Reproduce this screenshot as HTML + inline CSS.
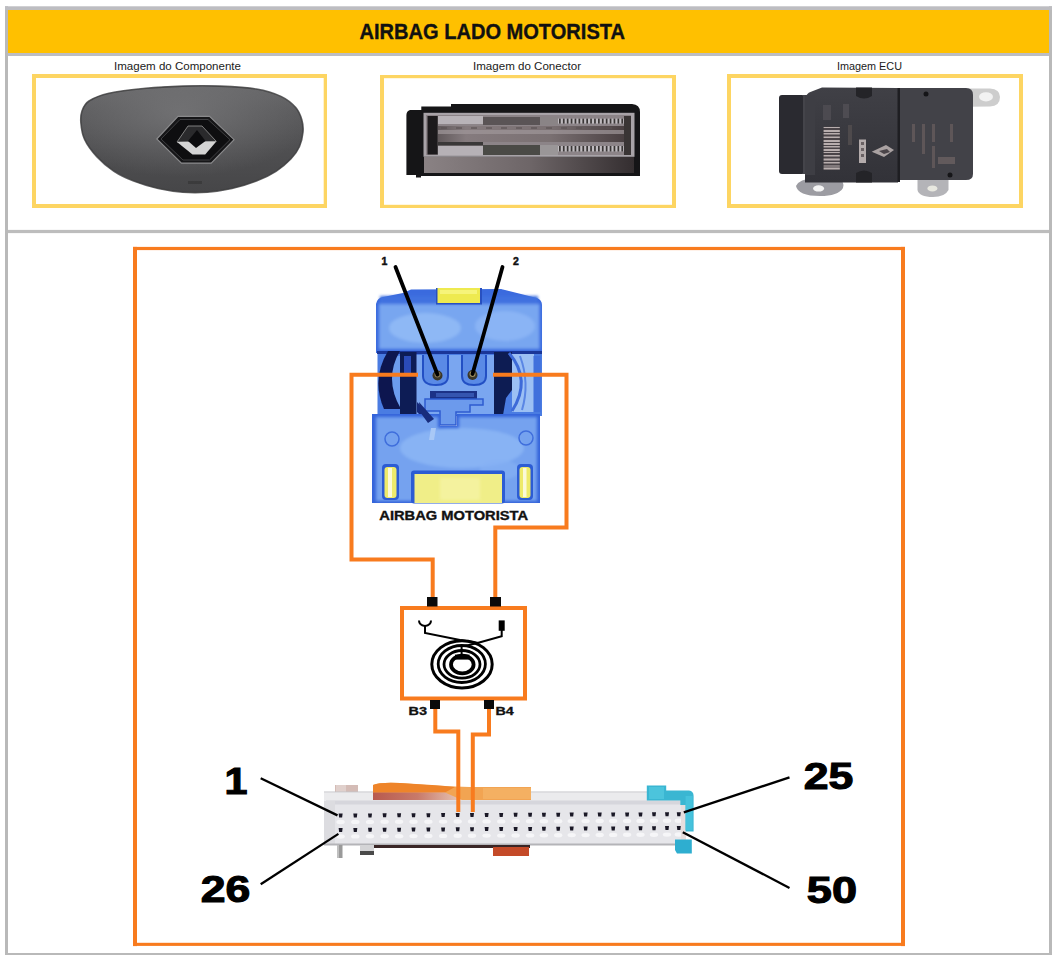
<!DOCTYPE html>
<html><head><meta charset="utf-8">
<style>
html,body{margin:0;padding:0;background:#fff;width:1059px;height:963px;overflow:hidden}
svg{position:absolute;left:0;top:0;display:block}
text{font-family:"Liberation Sans",sans-serif}
</style></head><body>
<svg width="1059" height="963" viewBox="0 0 1059 963">
<defs>
 <filter id="bl1" x="-5%" y="-5%" width="110%" height="110%"><feGaussianBlur stdDeviation="0.7"/></filter>
 <filter id="bl2" x="-5%" y="-5%" width="110%" height="110%"><feGaussianBlur stdDeviation="1.5"/></filter>
</defs>
<!-- OUTER FRAME -->
<rect x="8" y="10" width="1041" height="43" fill="#FFC000"/>
<rect x="5" y="6.3" width="3" height="948.7" fill="#b9b9b9"/>
<rect x="1049" y="6.3" width="3" height="948.7" fill="#b9b9b9"/>
<rect x="5" y="6.3" width="1047" height="3.7" fill="#bdbdc1"/>
<rect x="5" y="953" width="1047" height="2" fill="#b9b9b9"/>
<rect x="8" y="53" width="1041" height="3" fill="#bcbdc3"/>
<rect x="8" y="229.9" width="1041" height="3.2" fill="#bdbdbd"/>

<!-- TITLE -->
<text id="title" x="359.5" y="39" font-size="21.6" font-weight="bold" fill="#111" stroke="#111" stroke-width="0.35" textLength="265.5" lengthAdjust="spacingAndGlyphs">AIRBAG LADO MOTORISTA</text>

<!-- CAPTIONS -->
<text id="cap1" x="114" y="70" font-size="11" fill="#1a1a1a" textLength="127" lengthAdjust="spacingAndGlyphs">Imagem do Componente</text>
<text id="cap2" x="473" y="70" font-size="11" fill="#1a1a1a" textLength="108" lengthAdjust="spacingAndGlyphs">Imagem do Conector</text>
<text id="cap3" x="837" y="70" font-size="11" fill="#1a1a1a" textLength="65" lengthAdjust="spacingAndGlyphs">Imagem ECU</text>

<!-- IMAGE BOXES -->
<rect x="32" y="74" width="295" height="4" fill="#FDD562"/><rect x="32" y="204" width="295" height="4" fill="#FDD562"/><rect x="32" y="74" width="4" height="134" fill="#FDD562"/><rect x="323.7" y="74" width="3.3" height="134" fill="#FDD562"/>
<rect x="380" y="75" width="296" height="3.2" fill="#FDD562"/><rect x="380" y="204.8" width="296" height="3.2" fill="#FDD562"/><rect x="380" y="75" width="4" height="133" fill="#FDD562"/><rect x="672" y="75" width="4" height="133" fill="#FDD562"/>
<rect x="727" y="74" width="296" height="4" fill="#FDD562"/><rect x="727" y="204" width="296" height="4" fill="#FDD562"/><rect x="727" y="74" width="4" height="134" fill="#FDD562"/><rect x="1019" y="74" width="4" height="134" fill="#FDD562"/>

<!-- ===== PHOTO 1: AIRBAG ===== -->
<defs>
 <linearGradient id="abg" x1="0" y1="0" x2="0" y2="1">
  <stop offset="0" stop-color="#666668"/>
  <stop offset="0.25" stop-color="#5a5a5c"/>
  <stop offset="0.6" stop-color="#4f4f51"/>
  <stop offset="1" stop-color="#464648"/>
 </linearGradient>
 <radialGradient id="abh" cx="0.45" cy="0.25" r="0.6">
  <stop offset="0" stop-color="#7a7a7c" stop-opacity="0.7"/>
  <stop offset="1" stop-color="#7a7a7c" stop-opacity="0"/>
 </radialGradient>
 <linearGradient id="slv" x1="0" y1="0" x2="0" y2="1">
  <stop offset="0" stop-color="#9a9a9a"/>
  <stop offset="0.5" stop-color="#e8e8e8"/>
  <stop offset="1" stop-color="#bdbdbd"/>
 </linearGradient>
 <linearGradient id="ecug" x1="0" y1="0" x2="0" y2="1">
  <stop offset="0" stop-color="#404046"/>
  <stop offset="1" stop-color="#323238"/>
 </linearGradient>
</defs>
<defs>
 <linearGradient id="c2mid" x1="0" y1="0" x2="1" y2="0"><stop offset="0" stop-color="#625a5c"/><stop offset="0.15" stop-color="#857b7e"/><stop offset="0.6" stop-color="#7a7072"/><stop offset="1" stop-color="#4a4042"/></linearGradient>
 <linearGradient id="c2low" x1="0" y1="0" x2="1" y2="0"><stop offset="0" stop-color="#8a8284"/><stop offset="0.5" stop-color="#6e6668"/><stop offset="1" stop-color="#342e30"/></linearGradient>
</defs>
<g id="airbag">
 <path d="M182.8,86.1 C195.1,85.7 207.3,85.6 219.6,86.1 C231.9,86.6 246.2,87.3 256.4,89.0 C266.6,90.7 274.4,93.3 281.0,96.4 C287.6,99.5 292.2,103.6 295.7,107.5 C299.2,111.4 300.6,115.6 301.8,119.7 C303.0,123.8 303.4,127.5 303.0,132.0 C302.6,136.5 301.4,142.2 299.4,146.7 C297.4,151.2 294.7,154.9 290.8,159.0 C286.9,163.1 281.7,167.6 276.0,171.3 C270.3,175.0 263.8,178.2 256.4,181.1 C249.0,184.0 240.1,186.7 231.9,188.5 C223.7,190.3 215.5,191.6 207.3,192.2 C199.1,192.8 191.0,192.8 182.8,192.2 C174.6,191.6 166.4,190.3 158.2,188.5 C150.0,186.7 141.1,184.0 133.7,181.1 C126.3,178.2 120.2,175.4 114.0,171.3 C107.8,167.2 101.7,161.9 96.8,156.6 C91.9,151.3 87.2,145.0 84.6,139.4 C81.9,133.8 81.3,127.7 80.9,123.0 C80.5,118.3 80.7,114.7 82.0,111.0 C83.3,107.3 84.5,104.0 89.0,101.0 C93.5,98.0 99.6,95.3 109.1,93.2 C118.6,91.1 133.6,89.5 145.9,88.3 C158.2,87.1 170.5,86.5 182.8,86.1 Z" fill="url(#abg)"/>
 <path d="M182.8,86.1 C195.1,85.7 207.3,85.6 219.6,86.1 C231.9,86.6 246.2,87.3 256.4,89.0 C266.6,90.7 274.4,93.3 281.0,96.4 C287.6,99.5 292.2,103.6 295.7,107.5 C299.2,111.4 300.6,115.6 301.8,119.7 C303.0,123.8 303.4,127.5 303.0,132.0 C302.6,136.5 301.4,142.2 299.4,146.7 C297.4,151.2 294.7,154.9 290.8,159.0 C286.9,163.1 281.7,167.6 276.0,171.3 C270.3,175.0 263.8,178.2 256.4,181.1 C249.0,184.0 240.1,186.7 231.9,188.5 C223.7,190.3 215.5,191.6 207.3,192.2 C199.1,192.8 191.0,192.8 182.8,192.2 C174.6,191.6 166.4,190.3 158.2,188.5 C150.0,186.7 141.1,184.0 133.7,181.1 C126.3,178.2 120.2,175.4 114.0,171.3 C107.8,167.2 101.7,161.9 96.8,156.6 C91.9,151.3 87.2,145.0 84.6,139.4 C81.9,133.8 81.3,127.7 80.9,123.0 C80.5,118.3 80.7,114.7 82.0,111.0 C83.3,107.3 84.5,104.0 89.0,101.0 C93.5,98.0 99.6,95.3 109.1,93.2 C118.6,91.1 133.6,89.5 145.9,88.3 C158.2,87.1 170.5,86.5 182.8,86.1 Z" fill="url(#abh)"/>
 <path d="M182.8,86.1 C195.1,85.7 207.3,85.6 219.6,86.1 C231.9,86.6 246.2,87.3 256.4,89.0 C266.6,90.7 274.4,93.3 281.0,96.4 C287.6,99.5 292.2,103.6 295.7,107.5 C299.2,111.4 300.6,115.6 301.8,119.7 C303.0,123.8 303.4,127.5 303.0,132.0 C302.6,136.5 301.4,142.2 299.4,146.7 C297.4,151.2 294.7,154.9 290.8,159.0 C286.9,163.1 281.7,167.6 276.0,171.3 C270.3,175.0 263.8,178.2 256.4,181.1 C249.0,184.0 240.1,186.7 231.9,188.5 C223.7,190.3 215.5,191.6 207.3,192.2 C199.1,192.8 191.0,192.8 182.8,192.2 C174.6,191.6 166.4,190.3 158.2,188.5 C150.0,186.7 141.1,184.0 133.7,181.1 C126.3,178.2 120.2,175.4 114.0,171.3 C107.8,167.2 101.7,161.9 96.8,156.6 C91.9,151.3 87.2,145.0 84.6,139.4 C81.9,133.8 81.3,127.7 80.9,123.0 C80.5,118.3 80.7,114.7 82.0,111.0 C83.3,107.3 84.5,104.0 89.0,101.0 C93.5,98.0 99.6,95.3 109.1,93.2 C118.6,91.1 133.6,89.5 145.9,88.3 C158.2,87.1 170.5,86.5 182.8,86.1 Z" fill="none" stroke="#3c3c3e" stroke-width="1.6" opacity="0.8" filter="url(#bl1)"/>
 <path d="M156.8,139 L178,116.4 L209.5,116.4 L234.1,139.7 L211.2,163.1 L181.4,163.1 Z" fill="#161618" stroke="#8a8a8c" stroke-width="1.1"/>
 <path d="M161,139 L180,119.5 L208,119.5 L230,139.7 L209.5,160 L183,160 Z" fill="#0e0e10" stroke="#4a4a4c" stroke-width="0.8"/>
 <path d="M177,142 L188,126 L202,126 L216.3,141.4 Z" fill="#2a2a2c" stroke="#8a8a8a" stroke-width="0.9"/>
 <path d="M177,142 L216.3,141.4 L205.2,154.6 L192.5,154.6 Z" fill="#d4d4d4"/>
 <path d="M197,130 L205.5,141 L196,148 L188,141 Z" fill="#0c0c0e"/>
 <rect x="188" y="181" width="14" height="3" fill="#333" opacity="0.6"/>
</g>

<!-- ===== PHOTO 2: CONNECTOR ===== -->
<g id="conn2">
 <path d="M406.4,175 L406.4,115 Q406.5,111 410,110 L421.3,110 L421.3,106.5 L451,106.5 L451,104 L632,104 Q640,104.5 640,112 L640,176 L421,176 L421,177.5 L416,177.5 L416,175 Z" fill="#151517"/>
 <rect x="423.5" y="112.8" width="211" height="44" fill="#a8a3a8"/>
 <rect x="426" y="115" width="205" height="40" fill="#8c8488"/>
 <rect x="438" y="116" width="45" height="8" fill="#b8b3b8"/>
 <rect x="483" y="117" width="57" height="8" fill="#5a5456"/><rect x="540" y="117" width="18" height="8" fill="#8a8486"/>
 <rect x="558" y="118.6" width="66" height="5" fill="#c0bcc0"/>
 <rect x="438" y="126" width="186" height="16" fill="url(#c2mid)"/>
 <rect x="438" y="130" width="186" height="4" fill="#a0979a" opacity="0.7"/>
 <rect x="438" y="142" width="45" height="3.5" fill="#3a3838"/>
 <rect x="438" y="146" width="45" height="9" fill="#b6b1b6"/>
 <rect x="483" y="145" width="57" height="10" fill="#4a4a46"/><rect x="540" y="145" width="18" height="10" fill="#9a9698"/>
 <rect x="558" y="146" width="66" height="5.5" fill="#c0bcc0"/>
 <rect x="427.5" y="116" width="10.2" height="38.5" fill="#1c1a1c"/>
 <rect x="624" y="116" width="7" height="39" fill="#3a3535"/>
 <rect x="424" y="157" width="210" height="16" fill="url(#c2low)"/>
 <rect x="445" y="86" width="0" height="0"/>
 <rect x="559.0" y="118.6" width="1.7" height="5" fill="#3a3636"/><rect x="559.0" y="146" width="1.7" height="5.5" fill="#3a3636"/><rect x="562.9" y="118.6" width="1.7" height="5" fill="#3a3636"/><rect x="562.9" y="146" width="1.7" height="5.5" fill="#3a3636"/><rect x="566.8" y="118.6" width="1.7" height="5" fill="#3a3636"/><rect x="566.8" y="146" width="1.7" height="5.5" fill="#3a3636"/><rect x="570.7" y="118.6" width="1.7" height="5" fill="#3a3636"/><rect x="570.7" y="146" width="1.7" height="5.5" fill="#3a3636"/><rect x="574.6" y="118.6" width="1.7" height="5" fill="#3a3636"/><rect x="574.6" y="146" width="1.7" height="5.5" fill="#3a3636"/><rect x="578.5" y="118.6" width="1.7" height="5" fill="#3a3636"/><rect x="578.5" y="146" width="1.7" height="5.5" fill="#3a3636"/><rect x="582.4" y="118.6" width="1.7" height="5" fill="#3a3636"/><rect x="582.4" y="146" width="1.7" height="5.5" fill="#3a3636"/><rect x="586.3" y="118.6" width="1.7" height="5" fill="#3a3636"/><rect x="586.3" y="146" width="1.7" height="5.5" fill="#3a3636"/><rect x="590.2" y="118.6" width="1.7" height="5" fill="#3a3636"/><rect x="590.2" y="146" width="1.7" height="5.5" fill="#3a3636"/><rect x="594.1" y="118.6" width="1.7" height="5" fill="#3a3636"/><rect x="594.1" y="146" width="1.7" height="5.5" fill="#3a3636"/><rect x="598.0" y="118.6" width="1.7" height="5" fill="#3a3636"/><rect x="598.0" y="146" width="1.7" height="5.5" fill="#3a3636"/><rect x="601.9" y="118.6" width="1.7" height="5" fill="#3a3636"/><rect x="601.9" y="146" width="1.7" height="5.5" fill="#3a3636"/><rect x="605.8" y="118.6" width="1.7" height="5" fill="#3a3636"/><rect x="605.8" y="146" width="1.7" height="5.5" fill="#3a3636"/><rect x="609.7" y="118.6" width="1.7" height="5" fill="#3a3636"/><rect x="609.7" y="146" width="1.7" height="5.5" fill="#3a3636"/><rect x="613.6" y="118.6" width="1.7" height="5" fill="#3a3636"/><rect x="613.6" y="146" width="1.7" height="5.5" fill="#3a3636"/><rect x="617.5" y="118.6" width="1.7" height="5" fill="#3a3636"/><rect x="617.5" y="146" width="1.7" height="5.5" fill="#3a3636"/><rect x="621.4" y="118.6" width="1.7" height="5" fill="#3a3636"/><rect x="621.4" y="146" width="1.7" height="5.5" fill="#3a3636"/><rect x="441" y="127" width="6" height="2" fill="#5a5254" opacity="0.6"/><rect x="456" y="127" width="6" height="2" fill="#5a5254" opacity="0.6"/><rect x="471" y="127" width="6" height="2" fill="#5a5254" opacity="0.6"/><rect x="486" y="127" width="6" height="2" fill="#5a5254" opacity="0.6"/><rect x="501" y="127" width="6" height="2" fill="#5a5254" opacity="0.6"/><rect x="516" y="127" width="6" height="2" fill="#5a5254" opacity="0.6"/><rect x="531" y="127" width="6" height="2" fill="#5a5254" opacity="0.6"/><rect x="546" y="127" width="6" height="2" fill="#5a5254" opacity="0.6"/><rect x="561" y="127" width="6" height="2" fill="#5a5254" opacity="0.6"/><rect x="576" y="127" width="6" height="2" fill="#5a5254" opacity="0.6"/><rect x="591" y="127" width="6" height="2" fill="#5a5254" opacity="0.6"/><rect x="606" y="127" width="6" height="2" fill="#5a5254" opacity="0.6"/>
</g>

<!-- ===== PHOTO 3: ECU ===== -->
<g id="ecu">
 <path d="M796,186 Q800,178 815,178.5 L838,179 Q845,181 843,188 Q838,196 820,196 Q798,196 796,186 Z" fill="#9c9ca2"/>
 <ellipse cx="818.6" cy="188.4" rx="5.5" ry="3.2" fill="#f4f4f4"/>
 <path d="M917.5,180 L948.5,180 L948.5,190 Q945,197 933,197 Q919,197 917.5,190 Z" fill="#b4b4b8"/>
 <ellipse cx="932.4" cy="188.4" rx="5" ry="3" fill="#e8e8e0"/>
 <path d="M965,88.5 L990,88.5 Q1000,89 1000,97 Q1000,106 990,106.5 L968,106.8 Z" fill="#cdcdcd"/>
 <ellipse cx="986" cy="96.8" rx="7" ry="4.6" fill="#f2f2f2"/>
 <rect x="779" y="95" width="26" height="79" rx="3" fill="#2a2a30"/>
 <rect x="803" y="95" width="2" height="79" fill="#44444a"/>
 <path d="M805,182.5 L805,100 Q806,93 811,91.8 L822,87.5 L898,88 L898,182.5 Z" fill="url(#ecug)"/>
 <rect x="805" y="95" width="10" height="80" fill="#3e3e44"/>
 <path d="M900,88 L966,88 Q973,88 973,95 L973,174 Q973,180 966,180 L900,180 Z" fill="#424248"/>
 <rect x="897.5" y="88" width="2.5" height="94" fill="#1e1e22"/>
 <path d="M856,87.5 L872,87.5 L872,96 Q864,101 856,96 Z" fill="#242428"/>
 <path d="M856,182.5 L872,182.5 L872,173 Q864,168 856,173 Z" fill="#242428"/>
 <rect x="823.6" y="126.7" width="16.2" height="43" fill="#4a4448"/><rect x="823.6" y="127.0" width="16.2" height="1" fill="#b8aeae"/><rect x="823.6" y="130.0" width="16.2" height="2" fill="#b8aeae"/><rect x="823.6" y="133.0" width="16.2" height="1.5" fill="#b8aeae"/><rect x="823.6" y="136.5" width="16.2" height="1.5" fill="#b8aeae"/><rect x="823.6" y="140.0" width="16.2" height="2" fill="#b8aeae"/><rect x="823.6" y="143.0" width="16.2" height="2" fill="#b8aeae"/><rect x="823.6" y="146.0" width="16.2" height="1.5" fill="#b8aeae"/><rect x="823.6" y="149.0" width="16.2" height="2" fill="#b8aeae"/><rect x="823.6" y="152.0" width="16.2" height="1" fill="#b8aeae"/><rect x="823.6" y="155.0" width="16.2" height="1.5" fill="#b8aeae"/><rect x="823.6" y="158.5" width="16.2" height="2" fill="#b8aeae"/><rect x="823.6" y="162.0" width="16.2" height="1.5" fill="#b8aeae"/><rect x="823.6" y="165.5" width="16.2" height="1" fill="#b8aeae"/><rect x="823.6" y="167.5" width="16.2" height="2" fill="#b8aeae"/>
 <rect x="859" y="139.5" width="7" height="23.5" fill="#b4acac"/><rect x="861" y="142" width="3" height="3" fill="#6a6264"/><rect x="861" y="148" width="3" height="3" fill="#6a6264"/><rect x="861" y="154" width="3" height="3" fill="#6a6264"/>
 <path d="M871.7,151.7 L886,145 L894,150 L884,157 Z" fill="#aaa2a2"/><path d="M879,151 L887,149 L890,152 L884,154 Z" fill="#4a4448"/>
 <rect x="848" y="125" width="4" height="20" fill="#4e4a4c"/>
 <rect x="823" y="105" width="8" height="15" fill="#4c4a50"/>
 <rect x="843" y="104" width="6" height="14" fill="#4e4c52"/>
 <rect x="912" y="124" width="3" height="18" fill="#5e5658"/>
 <rect x="922" y="124" width="3" height="30" fill="#5e5658"/>
 <rect x="932" y="124" width="3" height="18" fill="#5e5658"/>
 <rect x="950" y="124" width="3" height="18" fill="#5e5658"/>
 <rect x="932" y="146" width="3" height="22" fill="#5e5658"/>
 <rect x="938" y="157" width="17" height="7" fill="#625a5c"/>
 <circle cx="926" cy="94" r="2.5" fill="#151518"/>
 <circle cx="950" cy="175" r="2.5" fill="#151518"/>
</g>

<!-- ORANGE FRAME -->
<g fill="#F87B1E">
 <rect x="133" y="246.9" width="772" height="3.2"/>
 <rect x="133" y="942.8" width="772" height="3.1"/>
 <rect x="133" y="246.9" width="4" height="699.2"/>
 <rect x="901" y="246.9" width="4" height="699.2"/>
</g>


<!-- ===== BLUE CONNECTOR ===== -->
<g id="blueconn">
 <!-- upper body -->
 <path d="M376,353 L376,304 Q377,298 383,297 L403,293 L411,289.5 L501,289 L537,298 Q542,300 542,305 L542,353 Z" fill="#3a6ade"/>
 <g filter="url(#bl2)">
  <path d="M379,304 L539.5,304 L539.5,349 L379,349 Z" fill="#78a6f0"/>
  <ellipse cx="425" cy="328" rx="36" ry="15" fill="#90baf5" opacity="0.9"/>
  <ellipse cx="505" cy="326" rx="30" ry="15" fill="#8cb6f5" opacity="0.9"/>
  <rect x="380" y="296" width="158" height="7" fill="#4072e0"/>
 </g>
 <rect x="436" y="288" width="46" height="16.5" fill="#2850c0"/>
 <rect x="437.5" y="288" width="42.5" height="15" fill="#eeea50"/>
 <rect x="440" y="290" width="37" height="4" fill="#f6f47a"/>
 <!-- middle band -->
 <rect x="377.5" y="352" width="164.5" height="64" fill="#4a7ce2"/>
 <rect x="377" y="351" width="165" height="3" fill="#1a3698"/>
 <g filter="url(#bl1)">
  <rect x="392" y="356" width="8" height="52" fill="#6c9cee"/>
  <rect x="416" y="355" width="78" height="60" fill="#7aa6f0"/>
  <path d="M388,351 Q371,379 384,409 L401,409 Q383.5,379 400,351 Z" fill="#0d1850"/>
  <path d="M400,352 L416.5,352 L416.5,415 L400,415 Z" fill="#101b55"/>
  <rect x="404" y="356" width="7" height="20" fill="#2c4cb8"/>
  <path d="M494,352 L512,352 L512,390 L506,398 L503,415 L494,415 Z" fill="#0f1a52"/>
  <rect x="512" y="354" width="22" height="58" fill="#9cc0f4"/>
  <path d="M509,353 Q532,380 512,411" fill="none" stroke="#3e6ad8" stroke-width="3"/>
  <path d="M520,356 Q530,383 522,410" fill="none" stroke="#5a86e4" stroke-width="2"/>
  <rect x="533.5" y="356" width="7" height="56" fill="#3f6fdc"/>
  <!-- sockets -->
  <path d="M423,355 L423,376 Q423,385 436,385 Q448,385 448,376 L448,355" fill="#5a8ae6" stroke="#2450c4" stroke-width="2"/>
  <path d="M462,355 L462,376 Q462,385 474,385 Q486,385 486,376 L486,355" fill="#5a8ae6" stroke="#2450c4" stroke-width="2"/>
  <rect x="430" y="391" width="47" height="8" fill="#1a3088"/>
  <rect x="436" y="393" width="38" height="4" fill="#3454b0"/>
  <path d="M425,399 L483,399 L483,405 L470,405 L470,412 L456,412 L456,425 L440,425 L440,411 L425,411 Z" fill="#6c9aec" stroke="#2e5cd0" stroke-width="1.5"/>
  <path d="M417,402 L434,419 L428,423 L417,412 Z" fill="#182c7c"/>
 </g>
 <!-- pins -->
 <circle cx="437.5" cy="375.5" r="5" fill="#3a3628"/>
 <circle cx="437.5" cy="374.5" r="3" fill="#857652"/>
 <circle cx="472.5" cy="375" r="5" fill="#3a3628"/>
 <circle cx="472.5" cy="374" r="3" fill="#a09060"/>
 <!-- lower body -->
 <path d="M372,414 L440,414 L440,426 L457,426 L457,414 L540,414 L540,503 L372,503 Z" fill="#3464da"/>
 <g filter="url(#bl2)">
  <path d="M376,417 L438,417 L438,428 L459,428 L459,417 L537,417 L537,501 L376,501 Z" fill="#74a2ef"/>
  <ellipse cx="462" cy="448" rx="62" ry="20" fill="#8cb6f5" opacity="0.85"/>
  <ellipse cx="500" cy="470" rx="20" ry="10" fill="#86b0f3" opacity="0.7"/>
 </g>
 <path d="M419,402 L434,419 L428,423 L420,412 Z" fill="#182c7c"/>
 <path d="M431,428 L436,428 L434,440 L429,440 Z" fill="#a8c8f6"/>
 <circle cx="392" cy="439" r="7" fill="none" stroke="#3f6edc" stroke-width="1.5"/>
 <circle cx="526" cy="438" r="7" fill="none" stroke="#3f6edc" stroke-width="1.5"/>
 <!-- yellow pills -->
 <rect x="382" y="464" width="17" height="36" rx="4" fill="#2c5cd4"/>
 <rect x="384.5" y="467" width="12" height="31" rx="3" fill="#eeea6a"/>
 <rect x="388" y="468" width="4" height="29" fill="#fbf9d8"/>
 <rect x="517" y="464" width="16" height="36" rx="4" fill="#2c5cd4"/>
 <rect x="519.5" y="467" width="11" height="31" rx="3" fill="#eeea6a"/>
 <rect x="523" y="468" width="3.5" height="29" fill="#fbf9d8"/>
 <rect x="411" y="470.5" width="94" height="33" rx="3" fill="#2c5cd4"/>
 <rect x="414.5" y="474" width="87.5" height="29" fill="#f0ee88"/>
 <rect x="440" y="478" width="40" height="22" fill="#f6f4a8" opacity="0.7" filter="url(#bl2)"/>
</g>
<text id="amot" x="379.3" y="520" font-size="12.3" font-weight="bold" fill="#111" stroke="#111" stroke-width="0.35" textLength="148.8" lengthAdjust="spacingAndGlyphs">AIRBAG MOTORISTA</text>

<!-- pin labels & leader lines -->
<text x="381.5" y="265" font-size="10.5" font-weight="bold" fill="#111" stroke="#111" stroke-width="0.5">1</text>
<text x="513" y="264.6" font-size="10.5" font-weight="bold" fill="#111" stroke="#111" stroke-width="0.5">2</text>
<line x1="395.5" y1="267" x2="437.5" y2="374.5" stroke="#000" stroke-width="3.8" stroke-linecap="round"/>
<line x1="502.5" y1="267" x2="472.5" y2="374" stroke="#000" stroke-width="3.8" stroke-linecap="round"/>


<!-- ===== BOTTOM ECU CONNECTOR ===== -->
<defs><linearGradient id="osh" x1="0" y1="0" x2="1" y2="0"><stop offset="0" stop-color="#b85a4e"/><stop offset="0.5" stop-color="#c87a6a"/><stop offset="1" stop-color="#e8c8b8"/></linearGradient></defs>
<g id="ecuconn">
 <rect x="335" y="785" width="23" height="15" fill="#d4bcb6"/>
 <rect x="336" y="785" width="10" height="8" fill="#e0d0cc"/>
 <rect x="324" y="792" width="359" height="53" fill="#e6e6ea"/>
 <rect x="324" y="791.5" width="359" height="1.2" fill="#c4c4c8"/>
 <rect x="324" y="792.5" width="359" height="8.5" fill="#ebebed"/>
 <rect x="326" y="800.5" width="354" height="4" fill="#d6d6dc"/>
 <rect x="324" y="801" width="11" height="44" fill="#dcdce0"/>
 
 <rect x="324" y="843.5" width="356" height="2" fill="#b4b4b8"/>
 <rect x="373" y="845" width="157" height="3" fill="#3a2626"/>
 <rect x="337" y="845" width="5.5" height="13" fill="#9a9a9a"/><rect x="337" y="845" width="2" height="13" fill="#c0c0c0"/>
 <rect x="360" y="845" width="14" height="6" fill="#d4d4d6"/><rect x="360" y="851" width="14" height="4" fill="#4a4a4a"/>
 <rect x="493" y="847" width="36" height="9" fill="#c44a28"/>
 <!-- orange strip -->
 <path d="M373,785 Q380,782 400,783 L440,786 L470,787 L531,787 L531,800 L460,800 L373,800 Z" fill="#f2a452"/>
 <path d="M373,785 Q380,782 400,783 L440,785.5 L455,787 L445,792.5 L373,792.5 Z" fill="#ee842a"/>
 <path d="M373,792.5 L445,792.5 L462,800 L373,800 Z" fill="url(#osh)"/>
 <rect x="483" y="788" width="48" height="11" fill="#f4b062"/>
 <ellipse cx="340.6" cy="822.0" rx="4.2" ry="2.2" fill="#fbfbfc" opacity="0.75"/><ellipse cx="340.6" cy="836.5" rx="4.2" ry="2.2" fill="#fbfbfc" opacity="0.75"/><ellipse cx="355.3" cy="821.9" rx="4.2" ry="2.2" fill="#fbfbfc" opacity="0.75"/><ellipse cx="355.3" cy="836.4" rx="4.2" ry="2.2" fill="#fbfbfc" opacity="0.75"/><ellipse cx="370.0" cy="821.9" rx="4.2" ry="2.2" fill="#fbfbfc" opacity="0.75"/><ellipse cx="370.0" cy="836.3" rx="4.2" ry="2.2" fill="#fbfbfc" opacity="0.75"/><ellipse cx="384.6" cy="821.8" rx="4.2" ry="2.2" fill="#fbfbfc" opacity="0.75"/><ellipse cx="384.6" cy="836.2" rx="4.2" ry="2.2" fill="#fbfbfc" opacity="0.75"/><ellipse cx="399.1" cy="821.8" rx="4.2" ry="2.2" fill="#fbfbfc" opacity="0.75"/><ellipse cx="399.1" cy="836.2" rx="4.2" ry="2.2" fill="#fbfbfc" opacity="0.75"/><ellipse cx="413.5" cy="821.7" rx="4.2" ry="2.2" fill="#fbfbfc" opacity="0.75"/><ellipse cx="413.5" cy="836.1" rx="4.2" ry="2.2" fill="#fbfbfc" opacity="0.75"/><ellipse cx="428.4" cy="821.7" rx="4.2" ry="2.2" fill="#fbfbfc" opacity="0.75"/><ellipse cx="428.4" cy="836.0" rx="4.2" ry="2.2" fill="#fbfbfc" opacity="0.75"/><ellipse cx="443.1" cy="821.6" rx="4.2" ry="2.2" fill="#fbfbfc" opacity="0.75"/><ellipse cx="443.1" cy="835.9" rx="4.2" ry="2.2" fill="#fbfbfc" opacity="0.75"/><ellipse cx="457.7" cy="821.5" rx="4.2" ry="2.2" fill="#fbfbfc" opacity="0.75"/><ellipse cx="457.7" cy="835.8" rx="4.2" ry="2.2" fill="#fbfbfc" opacity="0.75"/><ellipse cx="472.0" cy="821.5" rx="4.2" ry="2.2" fill="#fbfbfc" opacity="0.75"/><ellipse cx="472.0" cy="835.7" rx="4.2" ry="2.2" fill="#fbfbfc" opacity="0.75"/><ellipse cx="486.6" cy="821.4" rx="4.2" ry="2.2" fill="#fbfbfc" opacity="0.75"/><ellipse cx="486.6" cy="835.6" rx="4.2" ry="2.2" fill="#fbfbfc" opacity="0.75"/><ellipse cx="501.2" cy="821.4" rx="4.2" ry="2.2" fill="#fbfbfc" opacity="0.75"/><ellipse cx="501.2" cy="835.6" rx="4.2" ry="2.2" fill="#fbfbfc" opacity="0.75"/><ellipse cx="515.6" cy="821.3" rx="4.2" ry="2.2" fill="#fbfbfc" opacity="0.75"/><ellipse cx="515.6" cy="835.5" rx="4.2" ry="2.2" fill="#fbfbfc" opacity="0.75"/><ellipse cx="530.1" cy="821.3" rx="4.2" ry="2.2" fill="#fbfbfc" opacity="0.75"/><ellipse cx="530.1" cy="835.4" rx="4.2" ry="2.2" fill="#fbfbfc" opacity="0.75"/><ellipse cx="543.9" cy="821.2" rx="4.2" ry="2.2" fill="#fbfbfc" opacity="0.75"/><ellipse cx="543.9" cy="835.3" rx="4.2" ry="2.2" fill="#fbfbfc" opacity="0.75"/><ellipse cx="558.2" cy="821.2" rx="4.2" ry="2.2" fill="#fbfbfc" opacity="0.75"/><ellipse cx="558.2" cy="835.2" rx="4.2" ry="2.2" fill="#fbfbfc" opacity="0.75"/><ellipse cx="571.7" cy="821.1" rx="4.2" ry="2.2" fill="#fbfbfc" opacity="0.75"/><ellipse cx="571.7" cy="835.1" rx="4.2" ry="2.2" fill="#fbfbfc" opacity="0.75"/><ellipse cx="585.6" cy="821.1" rx="4.2" ry="2.2" fill="#fbfbfc" opacity="0.75"/><ellipse cx="585.6" cy="835.1" rx="4.2" ry="2.2" fill="#fbfbfc" opacity="0.75"/><ellipse cx="599.7" cy="821.0" rx="4.2" ry="2.2" fill="#fbfbfc" opacity="0.75"/><ellipse cx="599.7" cy="835.0" rx="4.2" ry="2.2" fill="#fbfbfc" opacity="0.75"/><ellipse cx="613.2" cy="821.0" rx="4.2" ry="2.2" fill="#fbfbfc" opacity="0.75"/><ellipse cx="613.2" cy="834.9" rx="4.2" ry="2.2" fill="#fbfbfc" opacity="0.75"/><ellipse cx="627.1" cy="820.9" rx="4.2" ry="2.2" fill="#fbfbfc" opacity="0.75"/><ellipse cx="627.1" cy="834.8" rx="4.2" ry="2.2" fill="#fbfbfc" opacity="0.75"/><ellipse cx="640.5" cy="820.9" rx="4.2" ry="2.2" fill="#fbfbfc" opacity="0.75"/><ellipse cx="640.5" cy="834.7" rx="4.2" ry="2.2" fill="#fbfbfc" opacity="0.75"/><ellipse cx="654.0" cy="820.8" rx="4.2" ry="2.2" fill="#fbfbfc" opacity="0.75"/><ellipse cx="654.0" cy="834.7" rx="4.2" ry="2.2" fill="#fbfbfc" opacity="0.75"/><ellipse cx="667.0" cy="820.7" rx="4.2" ry="2.2" fill="#fbfbfc" opacity="0.75"/><ellipse cx="667.0" cy="834.6" rx="4.2" ry="2.2" fill="#fbfbfc" opacity="0.75"/><ellipse cx="678.8" cy="820.7" rx="4.2" ry="2.2" fill="#fbfbfc" opacity="0.75"/><ellipse cx="678.8" cy="834.5" rx="4.2" ry="2.2" fill="#fbfbfc" opacity="0.75"/>
 <path d="M338.6,813.5 L342.6,813.5 L342.1,817.5 L339.1,817.5 Z" fill="#1a1826"/><path d="M338.6,828.0 L342.6,828.0 L342.1,832.0 L339.1,832.0 Z" fill="#1a1826"/><path d="M353.3,813.4 L357.3,813.4 L356.8,817.4 L353.8,817.4 Z" fill="#1a1826"/><path d="M353.3,827.9 L357.3,827.9 L356.8,831.9 L353.8,831.9 Z" fill="#1a1826"/><path d="M368.0,813.4 L372.0,813.4 L371.5,817.4 L368.5,817.4 Z" fill="#1a1826"/><path d="M368.0,827.8 L372.0,827.8 L371.5,831.8 L368.5,831.8 Z" fill="#1a1826"/><path d="M382.6,813.3 L386.6,813.3 L386.1,817.3 L383.1,817.3 Z" fill="#1a1826"/><path d="M382.6,827.7 L386.6,827.7 L386.1,831.7 L383.1,831.7 Z" fill="#1a1826"/><path d="M397.1,813.3 L401.1,813.3 L400.6,817.3 L397.6,817.3 Z" fill="#1a1826"/><path d="M397.1,827.7 L401.1,827.7 L400.6,831.7 L397.6,831.7 Z" fill="#1a1826"/><path d="M411.5,813.2 L415.5,813.2 L415.0,817.2 L412.0,817.2 Z" fill="#1a1826"/><path d="M411.5,827.6 L415.5,827.6 L415.0,831.6 L412.0,831.6 Z" fill="#1a1826"/><path d="M426.4,813.2 L430.4,813.2 L429.9,817.2 L426.9,817.2 Z" fill="#1a1826"/><path d="M426.4,827.5 L430.4,827.5 L429.9,831.5 L426.9,831.5 Z" fill="#1a1826"/><path d="M441.1,813.1 L445.1,813.1 L444.6,817.1 L441.6,817.1 Z" fill="#1a1826"/><path d="M441.1,827.4 L445.1,827.4 L444.6,831.4 L441.6,831.4 Z" fill="#1a1826"/><path d="M455.7,813.0 L459.7,813.0 L459.2,817.0 L456.2,817.0 Z" fill="#1a1826"/><path d="M455.7,827.3 L459.7,827.3 L459.2,831.3 L456.2,831.3 Z" fill="#1a1826"/><path d="M470.0,813.0 L474.0,813.0 L473.5,817.0 L470.5,817.0 Z" fill="#1a1826"/><path d="M470.0,827.2 L474.0,827.2 L473.5,831.2 L470.5,831.2 Z" fill="#1a1826"/><path d="M484.6,812.9 L488.6,812.9 L488.1,816.9 L485.1,816.9 Z" fill="#1a1826"/><path d="M484.6,827.1 L488.6,827.1 L488.1,831.1 L485.1,831.1 Z" fill="#1a1826"/><path d="M499.2,812.9 L503.2,812.9 L502.7,816.9 L499.7,816.9 Z" fill="#1a1826"/><path d="M499.2,827.1 L503.2,827.1 L502.7,831.1 L499.7,831.1 Z" fill="#1a1826"/><path d="M513.6,812.8 L517.6,812.8 L517.1,816.8 L514.1,816.8 Z" fill="#1a1826"/><path d="M513.6,827.0 L517.6,827.0 L517.1,831.0 L514.1,831.0 Z" fill="#1a1826"/><path d="M528.1,812.8 L532.1,812.8 L531.6,816.8 L528.6,816.8 Z" fill="#1a1826"/><path d="M528.1,826.9 L532.1,826.9 L531.6,830.9 L528.6,830.9 Z" fill="#1a1826"/><path d="M541.9,812.7 L545.9,812.7 L545.4,816.7 L542.4,816.7 Z" fill="#1a1826"/><path d="M541.9,826.8 L545.9,826.8 L545.4,830.8 L542.4,830.8 Z" fill="#1a1826"/><path d="M556.2,812.7 L560.2,812.7 L559.7,816.7 L556.7,816.7 Z" fill="#1a1826"/><path d="M556.2,826.7 L560.2,826.7 L559.7,830.7 L556.7,830.7 Z" fill="#1a1826"/><path d="M569.7,812.6 L573.7,812.6 L573.2,816.6 L570.2,816.6 Z" fill="#1a1826"/><path d="M569.7,826.6 L573.7,826.6 L573.2,830.6 L570.2,830.6 Z" fill="#1a1826"/><path d="M583.6,812.6 L587.6,812.6 L587.1,816.6 L584.1,816.6 Z" fill="#1a1826"/><path d="M583.6,826.6 L587.6,826.6 L587.1,830.6 L584.1,830.6 Z" fill="#1a1826"/><path d="M597.7,812.5 L601.7,812.5 L601.2,816.5 L598.2,816.5 Z" fill="#1a1826"/><path d="M597.7,826.5 L601.7,826.5 L601.2,830.5 L598.2,830.5 Z" fill="#1a1826"/><path d="M611.2,812.5 L615.2,812.5 L614.7,816.5 L611.7,816.5 Z" fill="#1a1826"/><path d="M611.2,826.4 L615.2,826.4 L614.7,830.4 L611.7,830.4 Z" fill="#1a1826"/><path d="M625.1,812.4 L629.1,812.4 L628.6,816.4 L625.6,816.4 Z" fill="#1a1826"/><path d="M625.1,826.3 L629.1,826.3 L628.6,830.3 L625.6,830.3 Z" fill="#1a1826"/><path d="M638.5,812.4 L642.5,812.4 L642.0,816.4 L639.0,816.4 Z" fill="#1a1826"/><path d="M638.5,826.2 L642.5,826.2 L642.0,830.2 L639.0,830.2 Z" fill="#1a1826"/><path d="M652.0,812.3 L656.0,812.3 L655.5,816.3 L652.5,816.3 Z" fill="#1a1826"/><path d="M652.0,826.2 L656.0,826.2 L655.5,830.2 L652.5,830.2 Z" fill="#1a1826"/><path d="M665.0,812.2 L669.0,812.2 L668.5,816.2 L665.5,816.2 Z" fill="#1a1826"/><path d="M665.0,826.1 L669.0,826.1 L668.5,830.1 L665.5,830.1 Z" fill="#1a1826"/><path d="M676.8,812.2 L680.8,812.2 L680.3,816.2 L677.3,816.2 Z" fill="#1a1826"/><path d="M676.8,826.0 L680.8,826.0 L680.3,830.0 L677.3,830.0 Z" fill="#1a1826"/>
 <!-- cyan clip -->
 <rect x="681" y="801" width="5" height="43" fill="#e6dede"/>
 <path d="M646.8,785.6 L666.2,785.6 L666.2,790.5 L689,790.5 Q693.6,791 693.6,796 L693.6,831.5 L685.6,831.5 L685.6,805 L680.3,805 L680.3,800.6 L646.8,800.6 Z" fill="#3ab6d2"/>
 <rect x="649" y="787" width="15" height="12" fill="#4cc4dc"/>
 <rect x="685.6" y="796" width="7" height="34" fill="#46c2dc"/>
 <path d="M675,839.5 L691.8,839.5 L691.8,853.6 L677,853.6 L675,850 Z" fill="#2eaed0"/>
</g>

<!-- big numbers -->
<g font-weight="bold" fill="#000" stroke="#000" stroke-width="1.1" font-size="36.8">
 <text x="224.5" y="794.3" textLength="23" lengthAdjust="spacingAndGlyphs">1</text>
 <text x="200.8" y="902.3" textLength="49.6" lengthAdjust="spacingAndGlyphs">26</text>
 <text x="803.8" y="789.3" textLength="49.6" lengthAdjust="spacingAndGlyphs">25</text>
 <text x="806.8" y="903.3" textLength="50.2" lengthAdjust="spacingAndGlyphs">50</text>
</g>
<g stroke="#000" stroke-width="2.3" fill="none">
 <line x1="260.7" y1="778.3" x2="337.5" y2="815.4"/>
 <line x1="260.7" y1="884.3" x2="338.4" y2="833.9"/>
 <line x1="683.8" y1="812.3" x2="789.5" y2="777.4"/>
 <line x1="682.8" y1="832.2" x2="789.5" y2="887.9"/>
</g>

<!-- ===== ORANGE WIRES ===== -->
<g fill="none" stroke="#F87B1E" stroke-width="4" stroke-linejoin="miter">
 <polyline points="418,374.8 351.5,374.8 351.5,559.5 432.7,559.5 432.7,598"/>
 <polyline points="493,374.8 566.5,374.8 566.5,527.5 495.3,527.5 495.3,598"/>
 <polyline points="435.3,709 435.3,731.5 458.3,731.5 458.3,812"/>
 <polyline points="489,709 489,734.5 472.8,734.5 472.8,812"/>
</g>

<!-- ===== CLOCK SPRING ===== -->
<rect x="402" y="608" width="123" height="90.5" fill="none" stroke="#F87B1E" stroke-width="4"/>
<rect x="427" y="597" width="10.5" height="9.5" fill="#0a0a0a"/>
<rect x="490" y="597" width="11" height="9.5" fill="#0a0a0a"/>
<rect x="430" y="700" width="10" height="9" fill="#0a0a0a"/>
<rect x="484" y="700" width="10" height="9" fill="#0a0a0a"/>
<text x="408.5" y="714.5" font-size="10" font-weight="bold" fill="#111" stroke="#111" stroke-width="0.3" textLength="18.5" lengthAdjust="spacingAndGlyphs">B3</text>
<text x="495.5" y="714.5" font-size="10" font-weight="bold" fill="#111" stroke="#111" stroke-width="0.3" textLength="18.3" lengthAdjust="spacingAndGlyphs">B4</text>
<g fill="none" stroke="#000">
 <ellipse cx="462" cy="664.3" rx="30.2" ry="23.6" stroke-width="3"/>
 <ellipse cx="461.8" cy="664" rx="23.6" ry="18.5" stroke-width="2.8"/>
 <ellipse cx="462" cy="664.3" rx="18" ry="13.8" stroke-width="2.8"/>
 <ellipse cx="462.3" cy="664.5" rx="11.3" ry="8.9" stroke-width="3.8"/>
 <path d="M419,620.5 Q419,625 425,626 Q431,625 431,620.5" stroke-width="2"/>
 <path d="M425,626 L425,633 L460,640 L479,643" stroke-width="2"/>
 <path d="M501.7,630 L501.7,636.3 L478.4,642.7 L465,646" stroke-width="2"/>
 <path d="M461.6,647 L461.6,656" stroke-width="2"/>
</g>
<rect x="498.7" y="620.4" width="6" height="10.4" fill="#000"/>
<rect x="455" y="654.6" width="14.5" height="5" fill="#000"/>

</svg>
</body></html>
